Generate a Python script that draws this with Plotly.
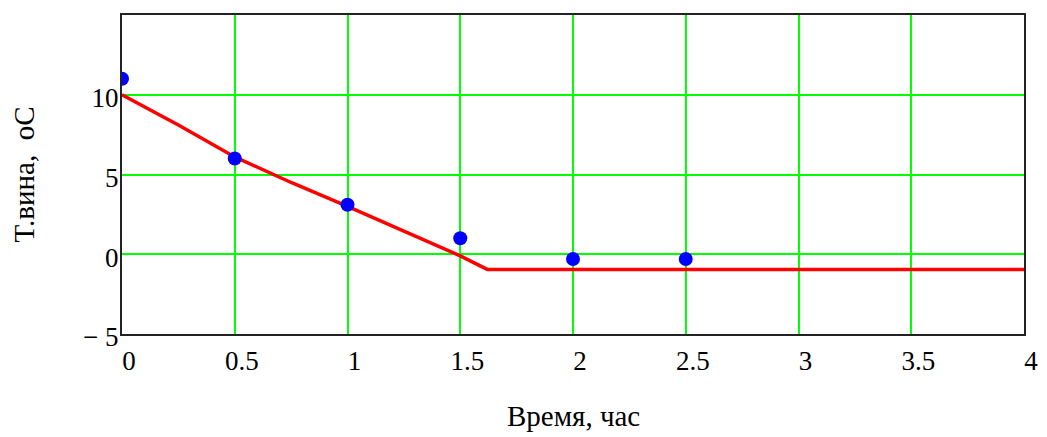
import plotly.graph_objects as go

# Measured points (blue)
t_meas = [0, 0.5, 1, 1.5, 2, 2.5]
T_meas = [11.0, 6.0, 3.1, 1.0, -0.3, -0.3]

# Model curve (red)
t_model = [0, 0.25, 0.5, 0.75, 1, 1.25, 1.5, 1.62, 2, 2.5, 3, 3.5, 4]
T_model = [10.0, 8.1, 6.1, 4.5, 3.0, 1.45, -0.1, -0.95, -0.95, -0.95, -0.95, -0.95, -0.95]

x_ticks = [0, 0.5, 1, 1.5, 2, 2.5, 3, 3.5, 4]
x_ticktext = ["0", "0.5", "1", "1.5", "2", "2.5", "3", "3.5", "4"]
y_ticks = [-5, 0, 5, 10]
y_ticktext = ["\u2212 5", "0", "5", "10"]

x_title = "Время, час"
y_title = "T.вина,  oC"

FONT = "Liberation Serif, Times New Roman, serif"

fig = go.Figure()
fig.add_trace(go.Scatter(x=t_model, y=T_model, mode="lines",
                         line=dict(color="#FF0000", width=3.5), showlegend=False))
fig.add_trace(go.Scatter(x=t_meas, y=T_meas, mode="markers",
                         marker=dict(color="#0000FF", size=14), showlegend=False))

axis_common = dict(showgrid=True, gridcolor="#00FF00", gridwidth=2,
                   showline=True, linecolor="#222222", linewidth=2, mirror=True,
                   zeroline=False, ticks="",
                   tickfont=dict(family=FONT, size=27, color="#000000"))

fig.update_xaxes(range=[0, 4], tickvals=x_ticks, ticktext=x_ticktext,
                 ticklabelshift=7, ticklabelstandoff=2, **axis_common)
fig.update_yaxes(range=[-5, 15], tickvals=y_ticks, ticktext=y_ticktext,
                 ticklabelshift=3, ticklabelstandoff=-4, **axis_common)

fig.update_layout(
    width=1039, height=429,
    margin=dict(l=114, r=23, t=5, b=103),
    paper_bgcolor="white", plot_bgcolor="white",
    annotations=[
        dict(text=x_title, xref="paper", yref="paper", x=0.5, y=(334 - 417) / 321,
             xanchor="center", yanchor="middle", showarrow=False,
             font=dict(family=FONT, size=29, color="#000000")),
        dict(text=y_title, xref="paper", yref="paper", x=(23 - 122) / 902, y=0.5,
             xanchor="center", yanchor="middle", showarrow=False, textangle=-90,
             font=dict(family=FONT, size=29, color="#000000")),
    ],
)

fig.write_html("out.html")
